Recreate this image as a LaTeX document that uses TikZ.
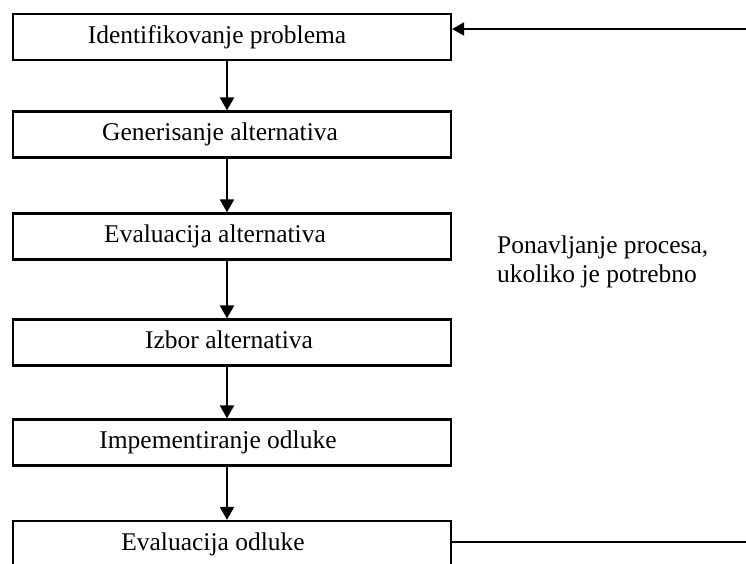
\documentclass[tikz,border=0pt]{standalone}
\usepackage{fontspec}
\setmainfont{Liberation Serif}
\usetikzlibrary{arrows.meta,calc}
\begin{document}
\begin{tikzpicture}[x=1pt,y=-1pt,
  stepbox/.style={draw=black, line width=2.2pt, minimum width=438pt, minimum height=46pt,
    inner sep=0pt, text height=17pt, text depth=5pt,
    font=\fontsize{25.5}{29}\selectfont},
  flow/.style={line width=2pt, -{Triangle[length=13pt,width=14pt]}},
  back/.style={line width=1.8pt, -{Triangle[length=12pt,width=13pt]}},
  note/.style={font=\fontsize{25.5}{29}\selectfont, align=left, inner sep=0pt}]
\useasboundingbox (0,0) rectangle (746,563);
\node[stepbox] (b1) at (232,37) {Identifikovanje problema\hspace*{30pt}};
\node[stepbox] (b2) at (232,134.5) {Generisanje alternativa\hspace*{24pt}};
\node[stepbox] (b3) at (232,236.5) {Evaluacija alternativa\hspace*{34pt}};
\node[stepbox] (b4) at (232,342.5) {Izbor alternativa\hspace*{6pt}};
\node[stepbox] (b5) at (232,442.5) {Impementiranje odluke\hspace*{28pt}};
\node[stepbox] (b6) at (232,544) {Evaluacija odluke\hspace*{38pt}};
\node[note, anchor=west] (n) at (497,261.6) {Ponavljanje procesa,\\ukoliko je potrebno};
\coordinate (ax) at (227,0);
\coordinate (rb) at (760,541.7);
\coordinate (rt) at (760,29);
\draw[flow] (b1.south -| ax) -- (b2.north -| ax);
\draw[flow] (b2.south -| ax) -- (b3.north -| ax);
\draw[flow] (b3.south -| ax) -- (b4.north -| ax);
\draw[flow] (b4.south -| ax) -- (b5.north -| ax);
\draw[flow] (b5.south -| ax) -- (b6.north -| ax);
\draw[back] (b6.east |- rb) -- (rb) -- (rt) -- (b1.east |- rt);
\end{tikzpicture}
\end{document}
